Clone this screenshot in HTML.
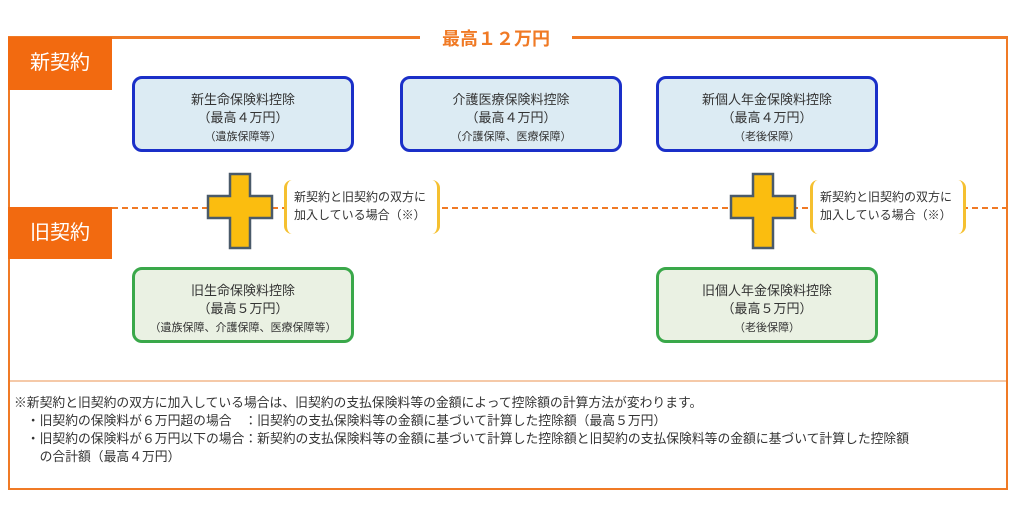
<!DOCTYPE html>
<html><head><meta charset="utf-8"><style>
body{margin:0;width:1011px;height:524px;background:#fff;position:relative;overflow:hidden;font-family:"Liberation Sans","Noto Sans CJK JP",sans-serif;color:#333}
.a{position:absolute}
.box{position:absolute;width:222px;height:76px;border:3px solid #1a2fc8;border-radius:10px;background:#dcebf3;text-align:center;font-size:13px;line-height:18px;box-sizing:border-box;padding-top:12px}
.g{border-color:#3aa84a;background:#eaf1e3}
.box small{font-size:11px}
.lab{position:absolute;left:8px;width:104px;background:#f26a10;color:#fff;font-size:20px;text-align:center}
.br{position:absolute;width:156px;height:54px;border-left:3px solid #f5c030;border-right:3px solid #f5c030;border-radius:8px;font-size:12px;line-height:18px;padding:8px 0 0 7px;box-sizing:border-box;background:#fff;white-space:nowrap}
.fn{position:absolute;left:14px;font-size:12.8px;line-height:18px;white-space:nowrap}
</style></head><body>
<div class="a" style="left:8px;top:37px;width:996px;height:451px;border:2px solid #f07a25;border-top:none"></div>
<div class="a" style="left:8px;top:36px;width:412px;height:3px;background:#f07a25"></div>
<div class="a" style="left:572px;top:36px;width:436px;height:3px;background:#f07a25"></div>
<div class="a" style="left:420px;top:25px;width:152px;text-align:center;color:#f07a25;font-weight:bold;font-size:18px">最高１２万円</div>
<div class="a" style="left:10px;top:380px;width:996px;height:2px;background:#f5c9a8"></div>
<div class="a" style="left:112px;top:207px;width:896px;border-top:2px dashed #f07a25"></div>
<div class="lab" style="top:37px;height:53px;line-height:53px">新契約</div>
<div class="lab" style="top:207px;height:52px;line-height:52px">旧契約</div>
<div class="box" style="left:132px;top:76px">新生命保険料控除<br>（最高４万円）<br><small>（遺族保障等）</small></div>
<div class="box" style="left:400px;top:76px">介護医療保険料控除<br>（最高４万円）<br><small>（介護保障、医療保障）</small></div>
<div class="box" style="left:656px;top:76px">新個人年金保険料控除<br>（最高４万円）<br><small>（老後保障）</small></div>
<div class="box g" style="left:132px;top:267px">旧生命保険料控除<br>（最高５万円）<br><small>（遺族保障、介護保障、医療保障等）</small></div>
<div class="box g" style="left:656px;top:267px">旧個人年金保険料控除<br>（最高５万円）<br><small>（老後保障）</small></div>
<svg class="a" style="left:0;top:0" width="1011" height="524">
<path d="M230 174h20v22h22v22h-22v30h-20v-30h-22v-22h22z" fill="#fbbd0f" stroke="#4a5a6a" stroke-width="2.5"/>
<path d="M753 174h20v22h22v22h-22v30h-20v-30h-22v-22h22z" fill="#fbbd0f" stroke="#4a5a6a" stroke-width="2.5"/>
</svg>
<div class="br" style="left:284px;top:180px">新契約と旧契約の双方に<br>加入している場合（※）</div>
<div class="br" style="left:810px;top:180px">新契約と旧契約の双方に<br>加入している場合（※）</div>
<div class="fn" style="top:394px">※新契約と旧契約の双方に加入している場合は、旧契約の支払保険料等の金額によって控除額の計算方法が変わります。</div>
<div class="fn" style="top:412px">　・旧契約の保険料が６万円超の場合　：旧契約の支払保険料等の金額に基づいて計算した控除額（最高５万円）</div>
<div class="fn" style="top:430px">　・旧契約の保険料が６万円以下の場合：新契約の支払保険料等の金額に基づいて計算した控除額と旧契約の支払保険料等の金額に基づいて計算した控除額</div>
<div class="fn" style="top:448px">　　の合計額（最高４万円）</div>
</body></html>
